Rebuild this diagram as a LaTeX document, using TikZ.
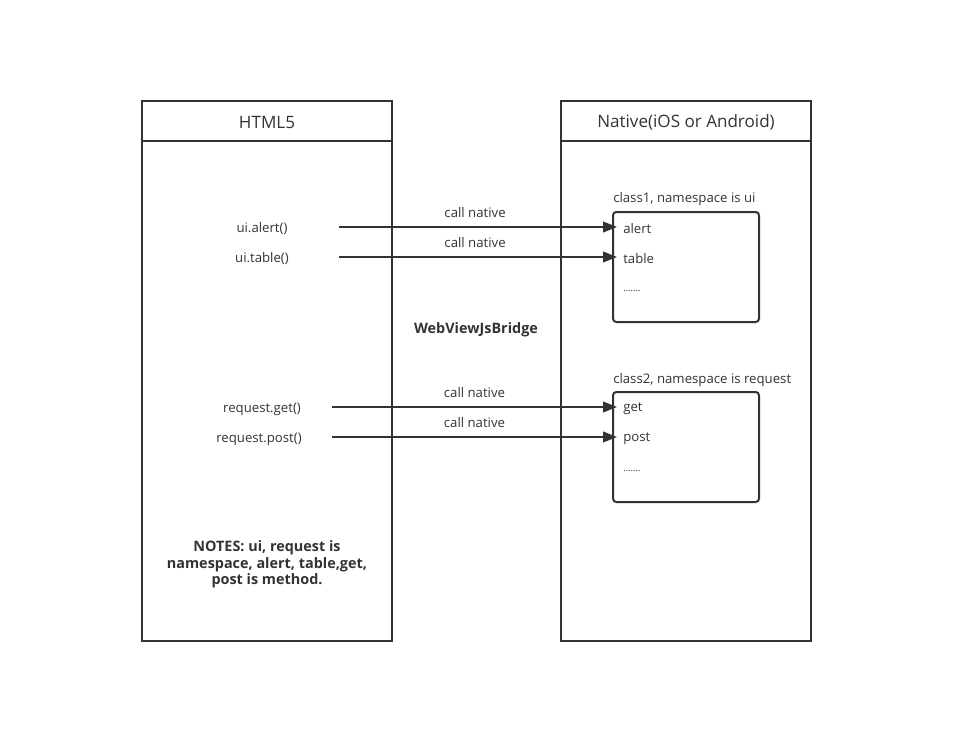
\documentclass[tikz,border=0pt]{standalone}
\usepackage{fontspec}
\setmainfont{Open Sans}
\usetikzlibrary{arrows.meta}
\definecolor{ink}{HTML}{333333}
\tikzset{
  lane/.style={draw=ink, line width=1.5pt},
  classbox/.style={draw=ink, line width=1.5pt, rounded corners=2.5pt},
  lbl/.style={font=\fontsize{9.9pt}{12pt}\selectfont, text=ink, inner sep=0pt},
  hdr/.style={font=\fontsize{12.8pt}{15pt}\selectfont, text=ink, inner sep=0pt},
  bold/.style={font=\fontsize{10.8pt}{12.2pt}\selectfont\bfseries, text=ink, inner sep=0pt, align=center},
  call/.style={draw=ink, line width=1.5pt, -{Triangle[length=10.5pt, width=8pt]}},
}
\begin{document}
\begin{tikzpicture}[x=0.75pt, y=-0.75pt]
\useasboundingbox (0,0) rectangle (953,742);
% lanes
\draw[lane] (142,101) rectangle (392,641);
\draw[lane] (142,141) -- (392,141);
\draw[lane] (561,101) rectangle (811,641);
\draw[lane] (561,141) -- (811,141);
\node[hdr] (h1) at (267,122.5) {HTML5};
\node[hdr] (h2) at (686,122.5) {Native(iOS or Android)};
% class boxes
\draw[classbox] (613,212) rectangle (759,322);
\draw[classbox] (613,392) rectangle (759,502);
\node[lbl, anchor=west] (c1) at (613,199) {class1, namespace is ui};
\node[lbl, anchor=west] (c2) at (613,380) {class2, namespace is request};
\node[lbl, anchor=west] (m1) at (623,229) {alert};
\node[lbl, anchor=west] (m2) at (623,259) {table};
\node[lbl, anchor=west] (m3) at (623,291) {\fontsize{7pt}{8pt}\selectfont .......};
\node[lbl, anchor=west] (m4) at (623,409) {get};
\node[lbl, anchor=west] (m5) at (623,439) {post};
\node[lbl, anchor=west] (m6) at (623,471) {\fontsize{7pt}{8pt}\selectfont .......};
% callers
\node[lbl] (f1) at (262,229) {ui.alert()};
\node[lbl] (f2) at (262,259) {ui.table()};
\node[lbl] (f3) at (262,409) {request.get()};
\node[lbl] (f4) at (259,439) {request.post()};
\coordinate (s1) at (339,227);
\coordinate (s2) at (339,257);
\coordinate (s3) at (332,407);
\coordinate (s4) at (332,437);
\coordinate (t1) at (617,227);
\coordinate (t2) at (617,257);
\coordinate (t3) at (617,407);
\coordinate (t4) at (617,437);
\draw[call] (s1) -- node[lbl, above=6pt, xshift=-2.2pt] {call native} (t1);
\draw[call] (s2) -- node[lbl, above=6pt, xshift=-2.2pt] {call native} (t2);
\draw[call] (s3) -- node[lbl, above=6pt] {call native} (t3);
\draw[call] (s4) -- node[lbl, above=6pt] {call native} (t4);
\node[bold] (br) at (476,329.5) {WebViewJsBridge};
\node[bold] (nt) at (267,564.5) {NOTES: ui, request is\\namespace, alert, table,get,\\post is method.};
\end{tikzpicture}
\end{document}
